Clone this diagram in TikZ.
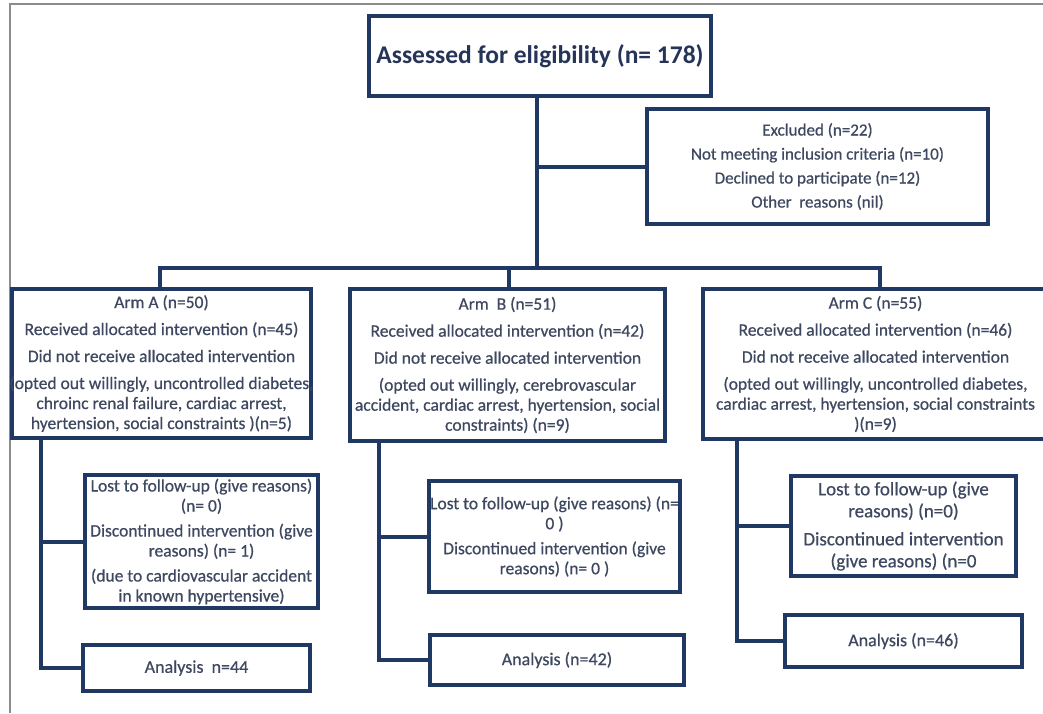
\documentclass[tikz,border=0pt]{standalone}
\usepackage{fontspec}
\setmainfont{Carlito}
\newfontfamily\bodyfont[FakeBold=0.6]{Carlito}
\definecolor{navy}{RGB}{31,56,100}
\definecolor{tbody}{RGB}{62,72,96}
\definecolor{ttitle}{RGB}{38,52,88}
\definecolor{framegray}{RGB}{140,140,140}
\tikzset{
  box/.style={draw=navy, line width=4pt, fill=white, inner sep=0pt},
  conn/.style={draw=navy, line width=4pt},
  txt/.style={text=tbody, align=center, inner sep=0pt, font=\bodyfont\fontsize{17.5}{20}\selectfont},
  txtex/.style={txt, font=\bodyfont\fontsize{17}{20}\selectfont},
  txtc/.style={txt, font=\bodyfont\fontsize{19}{22}\selectfont},
  txtan/.style={txt, font=\bodyfont\fontsize{18}{20}\selectfont},
  title/.style={text=ttitle, inner sep=0pt, font=\fontsize{25.5}{28}\selectfont\bfseries},
  framestyle/.style={draw=framegray, line width=2pt},
}
\begin{document}
\begin{tikzpicture}[x=1pt,y=-1pt]
\useasboundingbox (0,0) rectangle (1043,713);
\clip (0,0) rectangle (1043,713);
\fill[white] (0,0) rectangle (1043,713);
\draw[framestyle] (10,713) -- (10,4) -- (1043,4);

% boxes
\node[box, minimum width=342pt, minimum height=80pt] (top) at (540,56) {};
\node[title] (topt) at (top.center) {Assessed for eligibility (n= 178)};

\node[box, minimum width=341pt, minimum height=115pt] (excl) at (817.5,166.5) {};
\node[txtex] (exclt) at (excl.center) {Excluded (n=22)\\[4pt]Not meeting inclusion criteria (n=10)\\[4pt]Declined to participate (n=12)\\[4pt]Other\ \ reasons (nil)};

\node[box, minimum width=299pt, minimum height=149pt] (armA) at (161.5,363.5) {};
\node[txt] (armAt) at (armA.center) {Arm A (n=50)\\[7pt]Received allocated intervention (n=45)\\[7pt]Did not receive allocated intervention\\[7pt](opted out willingly, uncontrolled diabetes,\\chroinc renal failure, cardiac arrest,\\hyertension, social constraints )(n=5)};

\node[box, minimum width=315pt, minimum height=152pt] (armB) at (507.5,365) {};
\node[txt] (armBt) at (armB.center) {Arm\ \ B (n=51)\\[7pt]Received allocated intervention (n=42)\\[7pt]Did not receive allocated intervention\\[7pt](opted out willingly, cerebrovascular\\accident, cardiac arrest, hyertension, social\\constraints) (n=9)};

\node[box, minimum width=345pt, minimum height=150pt] (armC) at (875.5,364) {};
\node[txt] (armCt) at (armC.center) {Arm C (n=55)\\[7pt]Received allocated intervention (n=46)\\[7pt]Did not receive allocated intervention\\[7pt](opted out willingly, uncontrolled diabetes,\\cardiac arrest, hyertension, social constraints\\)(n=9)};

\node[box, minimum width=233pt, minimum height=133pt] (lostA) at (201.5,541.5) {};
\node[txt] (lostAt) at (lostA.center) {Lost to follow-up (give reasons)\\(n= 0)\\[5pt]Discontinued intervention (give\\reasons) (n= 1)\\[5pt](due to cardiovascular accident\\in known hypertensive)};

\node[box, minimum width=227pt, minimum height=46pt] (anaA) at (196.5,668) {};
\node[txtan] (anaAt) at (anaA.center) {Analysis\ \ n=44};

\node[box, minimum width=251pt, minimum height=111pt] (lostB) at (554.5,536.5) {};
\node[txt] (lostBt) at (lostB.center) {Lost to follow-up (give reasons) (n=\\0 )\\[5pt]Discontinued intervention (give\\reasons) (n= 0 )};

\node[box, minimum width=254pt, minimum height=50pt] (anaB) at (557,660) {};
\node[txtan] (anaBt) at (anaB.center) {Analysis (n=42)};

\node[box, minimum width=225pt, minimum height=100pt] (lostC) at (903.5,526) {};
\node[txtc] (lostCt) at (lostC.center) {Lost to follow-up (give\\reasons) (n=0)\\[6pt]Discontinued intervention\\(give reasons) (n=0};

\node[box, minimum width=237pt, minimum height=52pt] (anaC) at (903.5,641) {};
\node[txtan] (anaCt) at (anaC.center) {Analysis (n=46)};

% connector coordinates
\coordinate (bus) at (537,268);
\coordinate (dA) at (160,268);
\coordinate (dB) at (509,268);
\coordinate (dC) at (880,268);
\coordinate (sA) at (41,0);
\coordinate (sB) at (379,0);
\coordinate (sC) at (737,0);

% connectors
\draw[conn] (top.south -| bus) -- (bus);
\draw[conn] (excl.west) -- (excl.west -| bus);
\draw[conn] (dA |- armA.north) -- (dA) -- (dC) -- (dC |- armC.north);
\draw[conn] (dB) -- (dB |- armB.north);

\draw[conn] (sA |- armA.south) |- (anaA.west);
\draw[conn] (sA |- lostA.west) -- (lostA.west);
\draw[conn] (sB |- armB.south) |- (anaB.west);
\draw[conn] (sB |- lostB.west) -- (lostB.west);
\draw[conn] (sC |- armC.south) |- (anaC.west);
\draw[conn] (sC |- lostC.west) -- (lostC.west);
\end{tikzpicture}
\end{document}
